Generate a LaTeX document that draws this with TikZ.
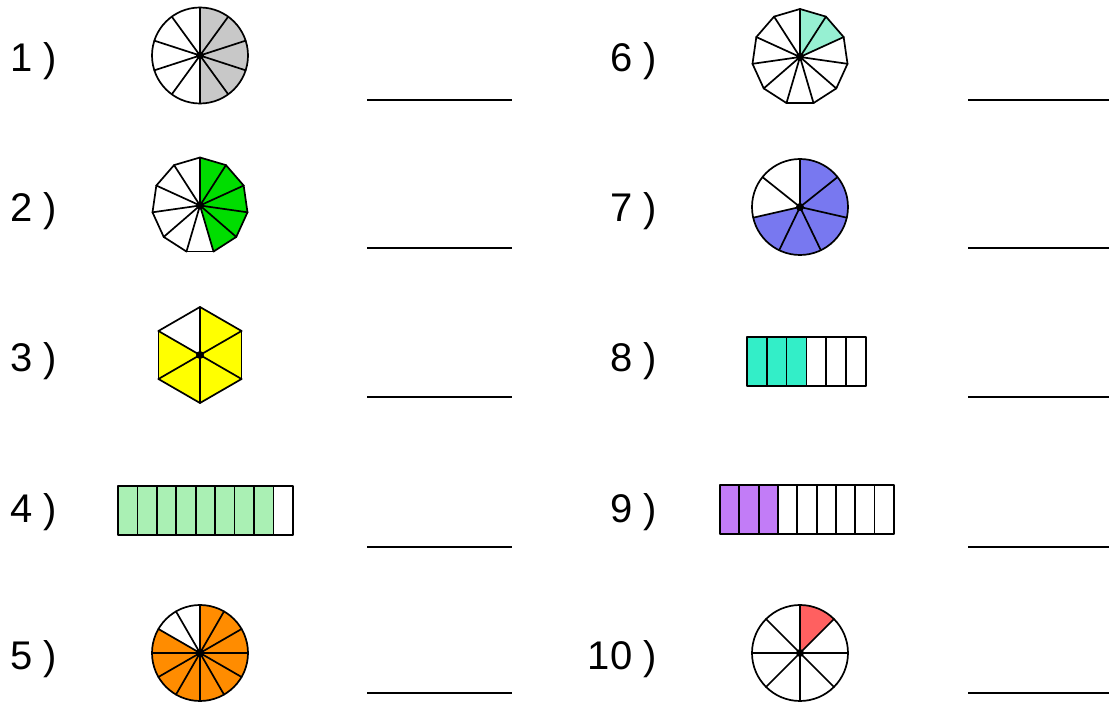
\documentclass[tikz,border=0pt]{standalone}
\usepackage{fontspec}
\setmainfont{Liberation Sans}
\definecolor{cgray}{HTML}{C8C8C8}
\definecolor{cgreen}{HTML}{00DD00}
\definecolor{cyellow}{HTML}{FFFF00}
\definecolor{clgreen}{HTML}{AAF0B4}
\definecolor{corange}{HTML}{FF8C00}
\definecolor{caqua}{HTML}{96F0D2}
\definecolor{cblue}{HTML}{7878F0}
\definecolor{cteal}{HTML}{33EEC8}
\definecolor{cpurple}{HTML}{C27CF7}
\definecolor{cred}{HTML}{FF6060}
\tikzset{
  lbl/.style={font=\fontsize{40}{40}\selectfont, anchor=base east, inner sep=0pt},
  blank/.style={line width=1.8pt},
  edge/.style={line width=1.7pt, line join=round, line cap=round},
}
% circle divided into #3 sectors, first #4 filled with #5
\newcommand\pieC[5]{%
  \begin{scope}[shift={(#1,#2)}]
    \foreach \i in {1,...,#4}{
      \pgfmathsetmacro\sang{90-(\i-1)*360/#3}
      \pgfmathsetmacro\eang{90-\i*360/#3}
      \fill[#5] (0,0) -- (\sang:48) arc[start angle=\sang, end angle=\eang, radius=48] -- cycle;
    }
    \foreach \i in {1,...,#3}{
      \pgfmathsetmacro\myang{90-\i*360/#3}
      \draw[edge] (0,0) -- (\myang:48);
    }
    \draw[edge] (0,0) circle[radius=48];
    \fill (0,0) circle[radius=4];
  \end{scope}}
% regular polygon with #3 sides, first #4 triangles filled with #5
\newcommand\pieP[5]{%
  \begin{scope}[shift={(#1,#2)}]
    \foreach \i in {1,...,#4}{
      \pgfmathsetmacro\sang{90-(\i-1)*360/#3}
      \pgfmathsetmacro\eang{90-\i*360/#3}
      \fill[#5] (0,0) -- (\sang:48) -- (\eang:48) -- cycle;
    }
    \foreach \i in {1,...,#3}{
      \pgfmathsetmacro\sang{90-(\i-1)*360/#3}
      \pgfmathsetmacro\eang{90-\i*360/#3}
      \draw[edge] (0,0) -- (\eang:48);
      \draw[edge] (\sang:48) -- (\eang:48);
    }
    \fill (0,0) circle[radius=4];
  \end{scope}}
% bar: left x #1, top y #2, #3 cells, #4 filled, cell width #5, height #6, colour #7
\newcommand\fracbar[7]{%
  \begin{scope}[shift={(#1,#2)}]
    \foreach \i in {1,...,#4}
      \fill[#7] ({(\i-1)*#5},0) rectangle ({\i*#5},-#6);
    \foreach \i in {1,...,#3}
      \draw[edge] ({(\i-1)*#5},0) rectangle ({\i*#5},-#6);
  \end{scope}}
\begin{document}
\begin{tikzpicture}[x=1pt,y=1pt]
  \useasboundingbox (0,0) rectangle (1109,704);
  % labels
  \node[lbl] (l1) at (57,632.5) {1 )};
  \node[lbl] (l2) at (57,482.5) {2 )};
  \node[lbl] (l3) at (57,332.5) {3 )};
  \node[lbl] (l4) at (57,181.5) {4 )};
  \node[lbl] (l5) at (57,34.5) {5 )};
  \node[lbl] (l6) at (657,632.5) {6 )};
  \node[lbl] (l7) at (657,482.5) {7 )};
  \node[lbl] (l8) at (657,332.5) {8 )};
  \node[lbl] (l9) at (657,181.5) {9 )};
  \node[lbl] (l10) at (657,34.5) {10 )};
  % figures
  \pieC{200}{648.5}{10}{5}{cgray}
  \pieP{200}{498.5}{11}{5}{cgreen}
  \pieP{200}{349}{6}{5}{cyellow}
  \fracbar{118}{218}{9}{8}{19.44}{49}{clgreen}
  \pieC{200}{51}{12}{10}{corange}
  \pieP{800}{647}{11}{2}{caqua}
  \pieC{800}{497}{7}{5}{cblue}
  \fracbar{747}{367}{6}{3}{19.8}{49}{cteal}
  \fracbar{720}{219}{9}{3}{19.33}{49}{cpurple}
  \pieC{800}{51}{8}{1}{cred}
  % answer blanks
  \coordinate (b1a) at (367,604); \coordinate (b1b) at (512,604);
  \coordinate (b2a) at (367,456); \coordinate (b2b) at (512,456);
  \coordinate (b3a) at (367,307); \coordinate (b3b) at (512,307);
  \coordinate (b4a) at (367,157); \coordinate (b4b) at (512,157);
  \coordinate (b5a) at (367,11);  \coordinate (b5b) at (512,11);
  \coordinate (b6a) at (968,604); \coordinate (b6b) at (1109,604);
  \coordinate (b7a) at (968,456); \coordinate (b7b) at (1109,456);
  \coordinate (b8a) at (968,307); \coordinate (b8b) at (1109,307);
  \coordinate (b9a) at (968,157); \coordinate (b9b) at (1109,157);
  \coordinate (b10a) at (968,11); \coordinate (b10b) at (1109,11);
  \foreach \k in {1,...,10} \draw[blank] (b\k a) -- (b\k b);
\end{tikzpicture}
\end{document}
